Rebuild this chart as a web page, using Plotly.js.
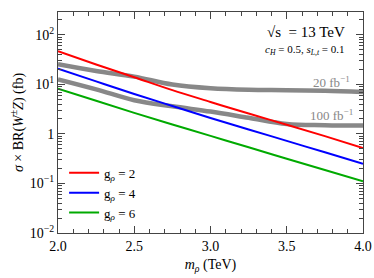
<!DOCTYPE html>
<html>
<head>
<meta charset="utf-8">
<script src="https://cdn.plot.ly/plotly-3.0.1.min.js"></script>
<style>html,body{margin:0;padding:0;background:#fff;}#chart{width:374px;height:278px;}</style>
</head>
<body>
<div id="chart"></div>
<script>
// m_rho (TeV)
const mRho = [2.0, 2.25, 2.5, 2.75, 3.0, 3.25, 3.5, 3.75, 4.0];
// sigma x BR (fb) for each coupling
const sigmaG2 = [46.5, 25.2, 13.9, 7.64, 4.41, 2.57, 1.53, 0.90, 0.52];
const sigmaG4 = [20.8, 11.5, 6.37, 3.65, 2.10, 1.23, 0.723, 0.425, 0.250];
const sigmaG6 = [8.19, 4.65, 2.65, 1.55, 0.912, 0.536, 0.316, 0.187, 0.111];
// luminosity reach curves
const reach20 = [25.4, 18.6, 14.3, 9.9, 8.32, 7.76, 7.64, 7.41, 7.0];
const reach100 = [12.6, 7.93, 4.79, 3.6, 2.82, 2.11, 1.58, 1.50, 1.47];
const seriesNames = ['g<sub><i>ρ</i></sub> = 2', 'g<sub><i>ρ</i></sub> = 4', 'g<sub><i>ρ</i></sub> = 6'];
const yTickVals = [0.01, 0.1, 1, 10, 100];
const yTickText = ['10<sup>−2</sup>', '10<sup>−1</sup>', '1', '10<sup>1</sup>', '10<sup>2</sup>'];
const xTickVals = [2.0, 2.5, 3.0, 3.5, 4.0];
const xTickText = ['2.0', '2.5', '3.0', '3.5', '4.0'];

const serif = "'Liberation Serif', 'Times New Roman', serif";
const traces = [
  {x: mRho, y: reach20, mode: 'lines', line: {color: '#888888', width: 4.5, shape: 'spline'}, showlegend: false, hoverinfo: 'skip'},
  {x: mRho, y: reach100, mode: 'lines', line: {color: '#888888', width: 4.5, shape: 'spline'}, showlegend: false, hoverinfo: 'skip'},
  {x: mRho, y: sigmaG2, mode: 'lines', name: seriesNames[0], legendgroup: 'a', line: {color: '#ff0000', width: 2, shape: 'spline'}},
  {x: mRho, y: sigmaG4, mode: 'lines', name: seriesNames[1], legendgroup: 'b', line: {color: '#0000ff', width: 2, shape: 'spline'}},
  {x: mRho, y: sigmaG6, mode: 'lines', name: seriesNames[2], legendgroup: 'c', line: {color: '#00aa00', width: 2, shape: 'spline'}}
];

const layout = {
  width: 374, height: 278,
  margin: {l: 58, r: 11, t: 12, b: 45},
  paper_bgcolor: '#fff', plot_bgcolor: '#fff',
  font: {family: serif, size: 14, color: '#000'},
  showlegend: true,
  legend: {x: 0.02, y: 0.34, xanchor: 'left', yanchor: 'top', bgcolor: 'rgba(0,0,0,0)',
           font: {family: serif, size: 13}, tracegroupgap: 3, traceorder: 'normal'},
  xaxis: {
    range: [2.0, 4.0], tickmode: 'array', tickvals: xTickVals, ticktext: xTickText,
    ticks: 'inside', ticklen: 7, tickcolor: '#444', showline: true, linecolor: '#444', linewidth: 1,
    mirror: 'ticks', showgrid: false, zeroline: false,
    minor: {ticks: 'inside', ticklen: 4, dtick: 0.1, tick0: 2.0, tickcolor: '#444', showgrid: false},
    tickfont: {family: serif, size: 14},
    title: {text: '<i>m</i><sub><i>ρ</i></sub> (TeV)', font: {family: serif, size: 14}, standoff: 6}
  },
  yaxis: {
    type: 'log', range: [-2, 2.46], tickmode: 'array', tickvals: yTickVals, ticktext: yTickText,
    ticks: 'inside', ticklen: 7, tickcolor: '#444', showline: true, linecolor: '#444', linewidth: 1,
    mirror: 'ticks', showgrid: false, zeroline: false,
    minor: {ticks: 'inside', ticklen: 4, dtick: 'D1', tickcolor: '#444', showgrid: false},
    tickfont: {family: serif, size: 14},
    title: {text: '<i>σ</i> × BR(<i>W</i><sup>±</sup><i>Z</i>) (fb)', font: {family: serif, size: 14}, standoff: 2}
  },
  annotations: [
    {xref: 'paper', yref: 'paper', x: 0.948, y: 0.909, xanchor: 'right', yanchor: 'middle', showarrow: false,
     text: '√s  = 13 TeV', font: {family: serif, size: 15, color: '#000'}},
    {xref: 'paper', yref: 'paper', x: 0.948, y: 0.828, xanchor: 'right', yanchor: 'middle', showarrow: false,
     text: '<i>c</i><sub><i>H</i></sub> = 0.5, <i>s</i><sub><i>L,t</i></sub> = 0.1', font: {family: serif, size: 11, color: '#000'}},
    {xref: 'paper', yref: 'paper', x: 0.964, y: 0.685, xanchor: 'right', yanchor: 'middle', showarrow: false,
     text: '20 fb<sup>−1</sup>', font: {family: serif, size: 13, color: '#888888'}},
    {xref: 'paper', yref: 'paper', x: 0.974, y: 0.534, xanchor: 'right', yanchor: 'middle', showarrow: false,
     text: '100 fb<sup>−1</sup>', font: {family: serif, size: 13, color: '#888888'}}
  ]
};

Plotly.newPlot('chart', traces, layout, {displayModeBar: false, staticPlot: true});
</script>
</body>
</html>
